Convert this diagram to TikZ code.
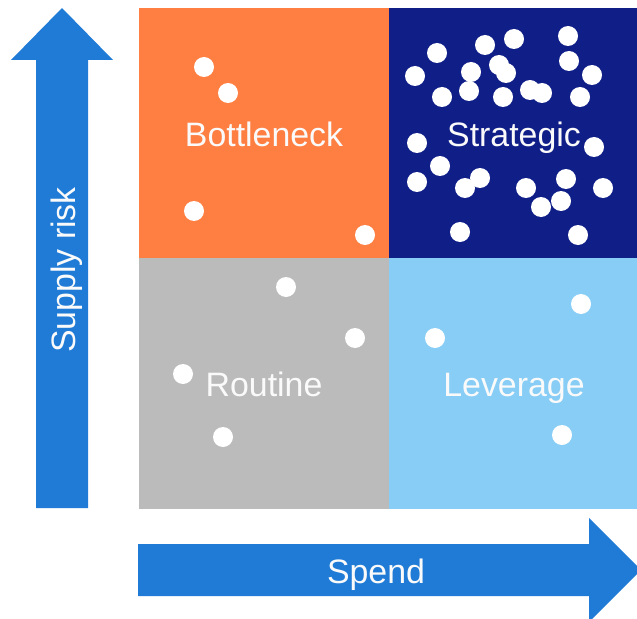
\documentclass[tikz,border=0pt]{standalone}
\usepackage{fontspec}
\setmainfont{Liberation Sans}
\definecolor{qorange}{RGB}{255,126,66}
\definecolor{qnavy}{RGB}{16,31,136}
\definecolor{qgray}{RGB}{187,187,187}
\definecolor{qlight}{RGB}{135,205,245}
\definecolor{qarrow}{RGB}{31,123,214}
\definecolor{qtext}{RGB}{250,250,250}
\tikzset{
  quad/.style={draw=none, minimum width=250bp, minimum height=251bp, inner sep=0pt, outer sep=0pt,
    anchor=north west, text=qtext, font=\fontsize{34}{40}\selectfont, text height=26bp, text depth=0bp},
  axisarrow/.style={fill=qarrow, draw=none},
  axislabel/.style={text=qtext, font=\fontsize{34}{40}\selectfont, text height=26bp, text depth=0bp, inner sep=0pt},
  dot/.style={fill=white}
}
\begin{document}
\begin{tikzpicture}[x=1bp, y=-1bp]
\useasboundingbox (0,0) rectangle (637,619);
\clip (0,0) rectangle (637,619);
% quadrants
\node[quad, fill=qorange] (bottleneck) at (139,8) {Bottleneck};
\node[quad, fill=qnavy] (strategic) at (389,8) {Strategic};
\node[quad, fill=qgray] (routine) at (139,258) {Routine};
\node[quad, fill=qlight] (leverage) at (389,258) {Leverage};
% dots
\foreach \x/\y in {204/67,228/93,194/211,365/235}{\fill[dot] (\x,\y) circle (10);}
\foreach \x/\y in {286/287,355/338,183/374,223/437}{\fill[dot] (\x,\y) circle (10);}
\foreach \x/\y in {581/304,435/338,562/435}{\fill[dot] (\x,\y) circle (10);}
\foreach \x/\y in {437/53,415/76,485/45,514/39,568/36,471/72,499/65,506/73,569/61,592/75,
  442/97,469/91,503/97,530/90,542/93,580/97,417/143,594/147,440/166,417/182,465/188,480/178,
  526/188,566/179,561/201,541/207,603/188,460/232,578/235}{\fill[dot] (\x,\y) circle (10);}
% vertical axis arrow
\fill[axisarrow] (36,508) -- (36,60) -- (11,60) -- (62,8) -- (113,60) -- (88,60) -- (88,508) -- cycle;
\node[axislabel, rotate=90] (supply) at (62,270) {Supply risk};
% horizontal axis arrow
\fill[axisarrow] (138,544) -- (589,544) -- (589,518) -- (641,570) -- (589,622) -- (589,596) -- (138,596) -- cycle;
\node[axislabel] (spend) at (376,570) {Spend};
\end{tikzpicture}
\end{document}
